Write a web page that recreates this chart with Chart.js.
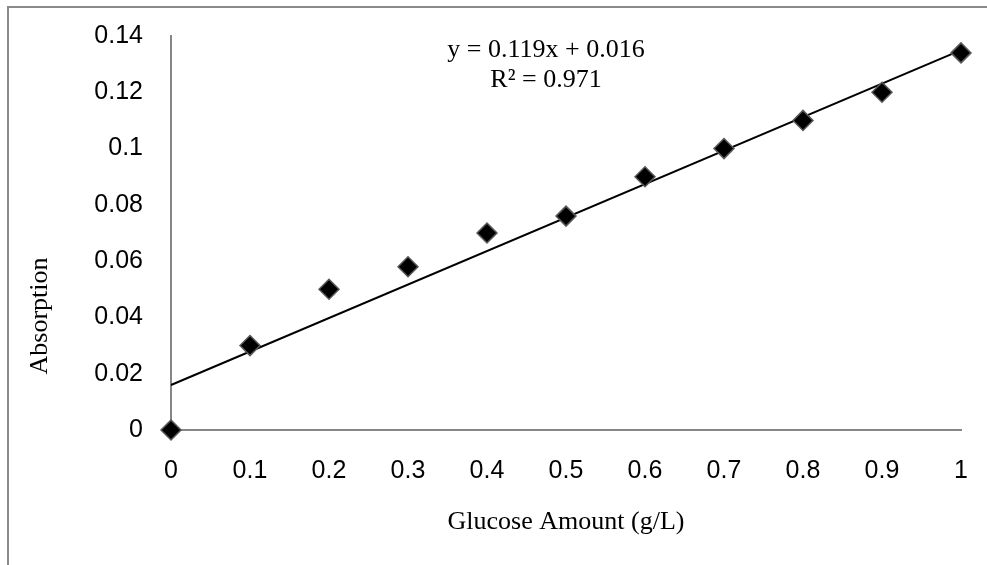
<!DOCTYPE html>
<html>
<head>
<meta charset="utf-8">
<script src="https://cdn.jsdelivr.net/npm/chart.js@4/dist/chart.umd.min.js"></script>
<style>
  html, body { margin: 0; padding: 0; background: #ffffff; }
  #wrap { width: 987px; height: 565px; position: relative; }
</style>
</head>
<body>
<div id="wrap"><canvas id="c" width="987" height="565"></canvas></div>
<script>
// ---- data ----
const glucose = [0, 0.1, 0.2, 0.3, 0.4, 0.5, 0.6, 0.7, 0.8, 0.9, 1];
const absorption = [0, 0.030, 0.050, 0.058, 0.070, 0.076, 0.090, 0.100, 0.110, 0.120, 0.134];
const trendSlope = 0.119;
const trendIntercept = 0.016;
const trendX = [0, 1];
const xTickLabels = ['0', '0.1', '0.2', '0.3', '0.4', '0.5', '0.6', '0.7', '0.8', '0.9', '1'];
const yTickLabels = ['0', '0.02', '0.04', '0.06', '0.08', '0.1', '0.12', '0.14'];
const equationLines = ['y = 0.119x + 0.016', 'R\u00B2 = 0.971'];
const xTitle = 'Glucose Amount (g/L)';
const yTitle = 'Absorption';

const scatterPoints = glucose.map((x, i) => ({ x: x, y: absorption[i] }));
const trendPoints = trendX.map(x => ({ x: x, y: trendSlope * x + trendIntercept }));

const AXIS_GREY = '#868686';
const SANS = "'Liberation Sans', Arial, sans-serif";
const SERIF = "'Liberation Serif', 'Times New Roman', serif";

const decorPlugin = {
  id: 'decor',
  beforeDraw(chart) {
    const ctx = chart.ctx;
    ctx.save();
    ctx.fillStyle = '#ffffff';
    ctx.fillRect(0, 0, chart.width, chart.height);
    // outer chart border (only left & top visible in the reference)
    ctx.strokeStyle = '#8a8a8a';
    ctx.lineWidth = 2;
    ctx.beginPath();
    ctx.moveTo(8, chart.height + 2);
    ctx.lineTo(8, 7);
    ctx.lineTo(chart.width + 2, 7);
    ctx.stroke();
    ctx.restore();
  },
  afterDraw(chart) {
    const ctx = chart.ctx;
    const area = chart.chartArea;
    ctx.save();
    ctx.fillStyle = '#000000';
    ctx.font = '26px ' + SERIF;
    ctx.textAlign = 'center';
    ctx.textBaseline = 'middle';
    // x axis title
    ctx.fillText(xTitle, (area.left + area.right) / 2, 522);
    // y axis title (rotated)
    ctx.save();
    ctx.translate(40, 316);
    ctx.rotate(-Math.PI / 2);
    ctx.fillText(yTitle, 0, 0);
    ctx.restore();
    // trendline equation
    ctx.fillText(equationLines[0], 546, 50);
    ctx.fillText(equationLines[1], 546, 80);
    ctx.restore();
  }
};

new Chart(document.getElementById('c'), {
  type: 'scatter',
  data: {
    datasets: [
      {
        label: 'Absorption',
        data: scatterPoints,
        pointStyle: 'rectRot',
        pointRadius: 10,
        pointHoverRadius: 10,
        backgroundColor: '#000000',
        borderColor: '#5a5a5a',
        borderWidth: 1.5,
        showLine: false,
        clip: false
      },
      {
        type: 'line',
        label: 'Linear trend',
        data: trendPoints,
        borderColor: '#000000',
        borderWidth: 2,
        pointRadius: 0,
        fill: false,
        tension: 0,
        clip: false
      }
    ]
  },
  options: {
    responsive: false,
    animation: false,
    devicePixelRatio: 1,
    layout: { padding: { left: 0, top: 36, right: 26, bottom: 0 } },
    plugins: {
      legend: { display: false },
      tooltip: { enabled: false },
      title: { display: false }
    },
    scales: {
      x: {
        type: 'linear',
        min: 0,
        max: 1,
        afterFit(scale) { scale.height = 135; scale.paddingLeft = 0; scale.paddingRight = 0; },
        grid: { display: false, drawTicks: false },
        border: { display: true, color: AXIS_GREY, width: 2 },
        ticks: {
          stepSize: 0.1,
          padding: 26,
          color: '#000000',
          font: { family: SANS, size: 25 },
          maxRotation: 0,
          autoSkip: false,
          callback: (v, i) => xTickLabels[i]
        }
      },
      y: {
        type: 'linear',
        min: 0,
        max: 0.14,
        afterFit(scale) { scale.width = 171; scale.paddingTop = 0; scale.paddingBottom = 0; },
        grid: { display: false, drawTicks: false },
        border: { display: true, color: AXIS_GREY, width: 2 },
        ticks: {
          stepSize: 0.02,
          padding: 28,
          color: '#000000',
          font: { family: SANS, size: 25 },
          autoSkip: false,
          callback: (v, i) => yTickLabels[i]
        }
      }
    }
  },
  plugins: [decorPlugin]
});
</script>
</body>
</html>
